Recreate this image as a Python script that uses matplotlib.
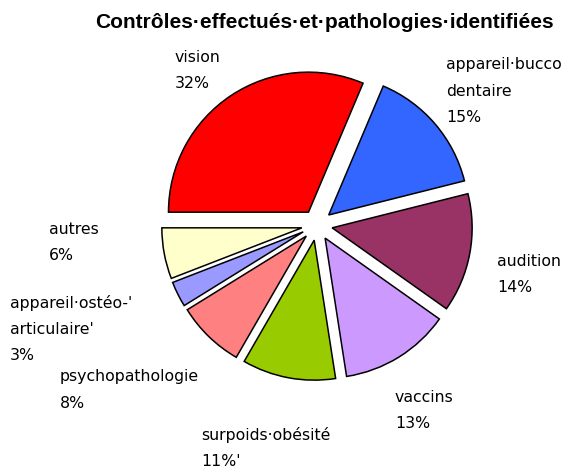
import matplotlib
matplotlib.use("Agg")
import matplotlib.pyplot as plt

# ---- data ----
title = "Contrôles·effectués·et·pathologies·identifiées"
categories = ["vision", "appareil·bucco\ndentaire", "audition", "vaccins",
              "surpoids·obésité", "psychopathologie", "appareil·ostéo-'\narticulaire'", "autres"]
values = [32, 15, 14, 13, 11, 8, 3, 6]
pct_labels = ["32%", "15%", "14%", "13%", "11%'", "8%", "3%", "6%"]
colors = ["#FF0000", "#3366FF", "#993366", "#CC99FF",
          "#99CC00", "#FF8080", "#9999FF", "#FFFFCC"]

# ---- layout (pixels) ----
W, H = 571, 470
cx, cy, R = 317, 225, 140
label_pos = [(175, 57), (446, 65), (497, 262), (395, 397),
             (201, 435), (60, 377), (10, 303), (49, 230)]
line_gap = 26

fig = plt.figure(figsize=(W / 100, H / 100), dpi=100)
ax = fig.add_axes([0, 0, 1, 1])
ax.pie(values, colors=colors, startangle=180, counterclock=False,
       explode=[0.11] * len(values), radius=1.0,
       wedgeprops=dict(edgecolor="black", linewidth=1.1))
ax.set_aspect("auto")
ax.set_xlim(-cx / R, (W - cx) / R)
ax.set_ylim(-(H - cy) / R, cy / R)
ax.axis("off")

fig.text(324 / W, 1 - 22 / H, title, ha="center", va="center",
         fontsize=15, fontweight="bold", family="Liberation Sans")

for cat, pct, (x, y) in zip(categories, pct_labels, label_pos):
    lines = cat.split("\n") + [pct]
    for i, ln in enumerate(lines):
        fig.text(x / W, 1 - (y + i * line_gap) / H, ln, ha="left", va="center",
                 fontsize=11.3, family="DejaVu Sans", color="black")

fig.savefig("out.png", dpi=100)
